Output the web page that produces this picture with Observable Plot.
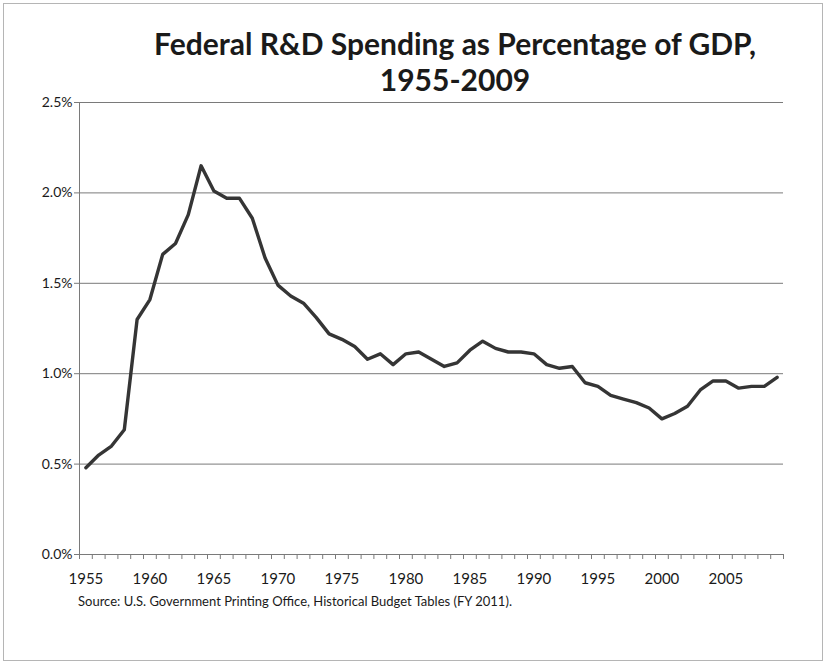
<!DOCTYPE html>
<html>
<head>
<meta charset="utf-8">
<script src="https://cdn.jsdelivr.net/npm/d3@7"></script>
<script src="https://cdn.jsdelivr.net/npm/@observablehq/plot@0.6"></script>
<style>
  html, body { margin: 0; padding: 0; background: #fff; }
  #wrap { position: relative; width: 828px; height: 667px; overflow: hidden; font-family: Lato, "Open Sans", sans-serif; color: #1a1a1a; }
  #frame { position: absolute; left: 3px; top: 3px; width: 820px; height: 658px; border: 1px solid #b5b5b5; box-sizing: border-box; }
  .title { position: absolute; left: 0; width: 910px; text-align: center; font-weight: 700; font-size: 30px; color: #1a1a1a; line-height: 34px; }
  #chart { position: absolute; left: 0; top: 92px; }
  #source { position: absolute; left: 78px; top: 593px; font-size: 13px; color: #1a1a1a; }
</style>
</head>
<body>
<div id="wrap">
  <div id="frame"></div>
  <div class="title" style="top:26px">Federal R&amp;D Spending as Percentage of GDP,</div>
  <div class="title" style="top:62px">1955-2009</div>
  <div id="chart"></div>
  <div id="source">Source: U.S. Government Printing Office, Historical Budget Tables (FY 2011).</div>
</div>
<script>
const years = [1955,1956,1957,1958,1959,1960,1961,1962,1963,1964,
  1965,1966,1967,1968,1969,1970,1971,1972,1973,1974,
  1975,1976,1977,1978,1979,1980,1981,1982,1983,1984,
  1985,1986,1987,1988,1989,1990,1991,1992,1993,1994,
  1995,1996,1997,1998,1999,2000,2001,2002,2003,2004,
  2005,2006,2007,2008,2009];
const pctGDP = [0.48,0.55,0.60,0.69,1.30,1.41,1.66,1.72,1.88,2.15,
  2.01,1.97,1.97,1.86,1.64,1.49,1.43,1.39,1.31,1.22,
  1.19,1.15,1.08,1.11,1.05,1.11,1.12,1.08,1.04,1.06,
  1.13,1.18,1.14,1.12,1.12,1.11,1.05,1.03,1.04,0.95,
  0.93,0.88,0.86,0.84,0.81,0.75,0.78,0.82,0.91,0.96,
  0.96,0.92,0.93,0.93,0.98];
const xLabels = [1955,1960,1965,1970,1975,1980,1985,1990,1995,2000,2005];
const yTicks = [0,0.5,1.0,1.5,2.0,2.5];

const data = years.map((y, i) => ({year: y, value: pctGDP[i]}));
// category boundaries (Excel-style ticks between categories)
const boundaries = years.map(y => y - 0.5).concat([years[years.length - 1] + 0.5]);
const xDomain = [boundaries[0], boundaries[boundaries.length - 1]];

const chart = Plot.plot({
  width: 828,
  height: 540,
  marginLeft: 79,
  marginRight: 45,
  marginTop: 10,
  marginBottom: 78,
  style: {fontFamily: "Lato, 'Open Sans', sans-serif", fontSize: "14px", color: "#1a1a1a", background: "transparent"},
  x: {type: "linear", domain: xDomain},
  y: {domain: [yTicks[0], yTicks[yTicks.length - 1]]},
  marks: [
    Plot.gridY(yTicks, {stroke: "#7a7a7a", strokeOpacity: 1, strokeWidth: 1}),
    Plot.ruleX([xDomain[0]], {stroke: "#7a7a7a", strokeWidth: 1}),
    Plot.axisY(yTicks, {tickSize: 5, tickPadding: 2, stroke: "#7a7a7a", fontSize: 14, tickFormat: d => d.toFixed(1) + "%", label: null}),
    Plot.axisX(boundaries, {tickSize: 5, stroke: "#7a7a7a", tickFormat: () => "", label: null}),
    Plot.axisX(xLabels, {tickSize: 0, tickPadding: 19, fontSize: 15, tickFormat: d => String(d), label: null}),
    Plot.line(data, {x: "year", y: "value", stroke: "#353535", strokeWidth: 3.4, strokeLinejoin: "round", strokeLinecap: "round"})
  ]
});
document.getElementById("chart").appendChild(chart);
</script>
</body>
</html>
